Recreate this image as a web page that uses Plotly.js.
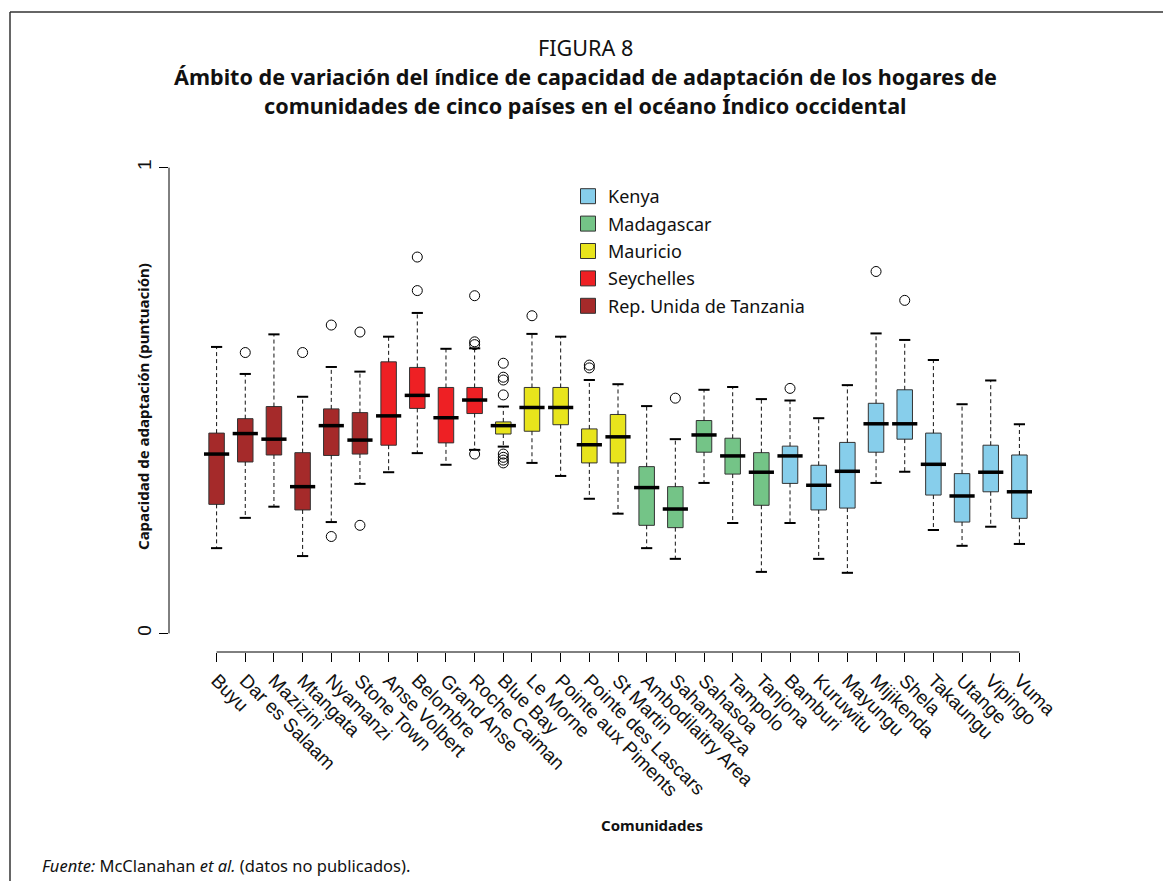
<!DOCTYPE html>
<html><head><meta charset="utf-8">
<script src="https://cdn.plot.ly/plotly-3.0.1.min.js"></script>
<style>html,body{margin:0;padding:0;background:#fff}#chart{width:1163px;height:881px}</style>
</head><body><div id="chart"></div>
<script>
// ---- data ----
const categories = ['Buyu','Dar es Salaam','Mazizini','Mtangata','Nyamanzi','Stone Town',
  'Anse Volbert','Belombre','Grand Anse','Roche Caiman',
  'Blue Bay','Le Morne','Pointe aux Piments','Pointe des Lascars','St Martin',
  'Ambodilaitry Area','Sahamalaza','Sahasoa','Tampolo','Tanjona',
  'Bamburi','Kuruwitu','Mayungu','Mijikenda','Shela','Takaungu','Utange','Vipingo','Vuma'];
const countries = ['Rep. Unida de Tanzania','Rep. Unida de Tanzania','Rep. Unida de Tanzania','Rep. Unida de Tanzania','Rep. Unida de Tanzania','Rep. Unida de Tanzania',
  'Seychelles','Seychelles','Seychelles','Seychelles',
  'Mauricio','Mauricio','Mauricio','Mauricio','Mauricio',
  'Madagascar','Madagascar','Madagascar','Madagascar','Madagascar',
  'Kenya','Kenya','Kenya','Kenya','Kenya','Kenya','Kenya','Kenya','Kenya'];
const lowWhisker = [0.183,0.248,0.272,0.166,0.239,0.321, 0.346,0.387,0.362,0.394, 0.401,0.366,0.338,0.289,0.257, 0.183,0.160,0.323,0.237,0.132, 0.237,0.160,0.130,0.323,0.347,0.222,0.188,0.229,0.192];
const q1Values   = [0.277,0.368,0.383,0.265,0.382,0.385, 0.404,0.483,0.409,0.472, 0.428,0.434,0.448,0.366,0.366, 0.232,0.227,0.389,0.342,0.275, 0.322,0.265,0.269,0.389,0.417,0.297,0.239,0.304,0.247];
const medians    = [0.385,0.429,0.417,0.315,0.446,0.415, 0.467,0.511,0.463,0.501, 0.446,0.485,0.485,0.405,0.422, 0.313,0.267,0.426,0.381,0.346, 0.381,0.318,0.348,0.450,0.450,0.363,0.295,0.346,0.304];
const q3Values   = [0.430,0.461,0.487,0.388,0.482,0.474, 0.583,0.571,0.528,0.528, 0.454,0.528,0.528,0.439,0.470, 0.358,0.315,0.457,0.419,0.388, 0.402,0.361,0.410,0.494,0.523,0.430,0.343,0.404,0.383];
const highWhisker= [0.615,0.557,0.642,0.508,0.572,0.562, 0.637,0.688,0.611,0.612, 0.487,0.643,0.637,0.544,0.535, 0.488,0.417,0.523,0.529,0.503, 0.500,0.462,0.533,0.644,0.630,0.587,0.492,0.543,0.449];
const outlierCategories = ['Dar es Salaam','Mtangata','Nyamanzi','Nyamanzi','Stone Town','Stone Town',
  'Belombre','Belombre','Roche Caiman','Roche Caiman','Roche Caiman','Roche Caiman',
  'Blue Bay','Blue Bay','Blue Bay','Blue Bay','Blue Bay','Blue Bay','Blue Bay','Blue Bay',
  'Le Morne','Pointe des Lascars','Pointe des Lascars','Sahamalaza','Bamburi','Mijikenda','Shela'];
const outlierValues = [0.603,0.603,0.662,0.208,0.647,0.232,
  0.808,0.736,0.725,0.626,0.620,0.385,
  0.580,0.550,0.544,0.512,0.385,0.378,0.372,0.366,
  0.682,0.576,0.570,0.505,0.526,0.777,0.715];
const legendCountries = ['Kenya','Madagascar','Mauricio','Seychelles','Rep. Unida de Tanzania'];
const countryColors = {'Kenya':'#87CEEB','Madagascar':'#74C487','Mauricio':'#E8E41C','Seychelles':'#EE2024','Rep. Unida de Tanzania':'#A52A2A'};
const yTickValues = [0, 1];
const yTickLabels = ['0', '1'];

// ---- geometry helpers (pixel -> paper) ----
const L = 169, R = 1067, T = 149, B = 652;
const px = x => (x - L) / (R - L);
const py = y => (B - y) / (B - T);

const traces = [];
const plotOrder = ['Rep. Unida de Tanzania','Seychelles','Mauricio','Madagascar','Kenya'];
plotOrder.forEach(c => {
  const idx = categories.map((_, i) => i).filter(i => countries[i] === c);
  traces.push({
    type: 'box', name: c, showlegend: false, hoverinfo: 'skip',
    x: idx.map(i => categories[i]),
    q1: idx.map(i => q1Values[i]), median: idx.map(i => medians[i]), q3: idx.map(i => q3Values[i]),
    lowerfence: idx.map(i => q1Values[i]), upperfence: idx.map(i => q3Values[i]),
    fillcolor: countryColors[c], line: {color: '#333', width: 1},
    width: 0.54, whiskerwidth: 0, boxpoints: false
  });
});

// dashed whiskers
const wx = [], wy = [];
categories.forEach((c, i) => {
  wx.push(c, c, null, c, c, null);
  wy.push(q3Values[i], highWhisker[i], null, q1Values[i], lowWhisker[i], null);
});
traces.push({type: 'scatter', mode: 'lines', x: wx, y: wy, showlegend: false, hoverinfo: 'skip',
  line: {color: '#111', width: 1, dash: '4px,3px'}, connectgaps: false});

// whisker caps
traces.push({type: 'scatter', mode: 'markers', showlegend: false, hoverinfo: 'skip',
  x: categories.concat(categories), y: lowWhisker.concat(highWhisker),
  marker: {symbol: 'line-ew', size: 8, line: {color: '#000', width: 2}}});

// thick medians
traces.push({type: 'scatter', mode: 'markers', showlegend: false, hoverinfo: 'skip',
  x: categories, y: medians,
  marker: {symbol: 'line-ew', size: 18, line: {color: '#000', width: 3.5}}});

// outliers
traces.push({type: 'scatter', mode: 'markers', showlegend: false, hoverinfo: 'skip',
  x: outlierCategories, y: outlierValues,
  marker: {symbol: 'circle-open', size: 10, color: '#000', line: {color: '#000', width: 1}}});

// legend entries
legendCountries.forEach(c => {
  traces.push({type: 'scatter', mode: 'markers', name: c, legendgroup: c, x: [null], y: [null],
    marker: {symbol: 'square', size: 15, color: countryColors[c], line: {color: '#333', width: 1}}});
});

const txt = '#111';
const ann = (text, x, y, size, extra) => Object.assign({text: text, xref: 'paper', yref: 'paper',
  x: px(x), y: py(y), xanchor: 'center', yanchor: 'middle', showarrow: false,
  font: {family: 'Noto Sans, sans-serif', size: size, color: txt}}, extra || {});

const layout = {
  width: 1163, height: 881,
  margin: {l: L, r: 1163 - R, t: T, b: 881 - B, pad: 0},
  paper_bgcolor: '#fff', plot_bgcolor: '#fff',
  font: {family: 'Liberation Sans, Arial, sans-serif', color: txt},
  hovermode: false, boxmode: 'overlay',
  xaxis: {type: 'category', categoryorder: 'array', categoryarray: categories,
    range: [-1.66, categories.length - 1 + 1.66], automargin: false,
    showgrid: false, zeroline: false, showline: false,
    ticks: 'outside', ticklen: 9, tickwidth: 1, tickcolor: '#000',
    tickangle: 45, tickfont: {family: 'Liberation Sans, Arial, sans-serif', size: 19, color: txt}},
  yaxis: {range: [-0.04, 1.04], automargin: false, tickvals: yTickValues, ticktext: yTickLabels,
    showgrid: false, zeroline: false, showline: false,
    ticks: 'outside', ticklen: 9, tickwidth: 1, tickcolor: '#000', tickangle: -90,
    tickfont: {family: 'Liberation Sans, Arial, sans-serif', size: 19, color: txt}},
  legend: {x: px(568), y: py(178), xanchor: 'left', yanchor: 'top', bgcolor: 'rgba(0,0,0,0)',
    font: {family: 'Noto Sans, sans-serif', size: 18, color: txt},
    traceorder: 'grouped', tracegroupgap: 1},
  shapes: [
    {type: 'line', xref: 'x', yref: 'paper', x0: categories[0], x1: categories[categories.length - 1], y0: 0, y1: 0, line: {color: '#000', width: 1}},
    {type: 'line', xref: 'paper', yref: 'y', x0: 0, x1: 0, y0: yTickValues[0], y1: yTickValues[1], line: {color: '#000', width: 1}},
    {type: 'line', xref: 'paper', yref: 'paper', x0: px(10), x1: px(10), y0: py(12), y1: py(890), line: {color: '#333', width: 1.5}},
    {type: 'line', xref: 'paper', yref: 'paper', x0: px(10), x1: px(1170), y0: py(12), y1: py(12), line: {color: '#333', width: 1.5}}
  ],
  annotations: [
    ann('FIGURA 8', 585, 47, 21.6),
    ann('<b>Ámbito de variación del índice de capacidad de adaptación de los hogares de</b>', 585, 76, 21.6),
    ann('<b>comunidades de cinco países en el océano Índico occidental</b>', 585, 105, 21.6),
    ann('<b>Capacidad de adaptación (puntuación)</b>', 143, 407, 15, {textangle: -90}),
    ann('<b>Comunidades</b>', 652, 825, 15),
    ann('<i>Fuente:</i> McClanahan <i>et al.</i> (datos no publicados).', 40, 865, 16.5, {xanchor: 'left'})
  ]
};

Plotly.newPlot('chart', traces, layout, {displayModeBar: false, staticPlot: true});
</script>
</body></html>
